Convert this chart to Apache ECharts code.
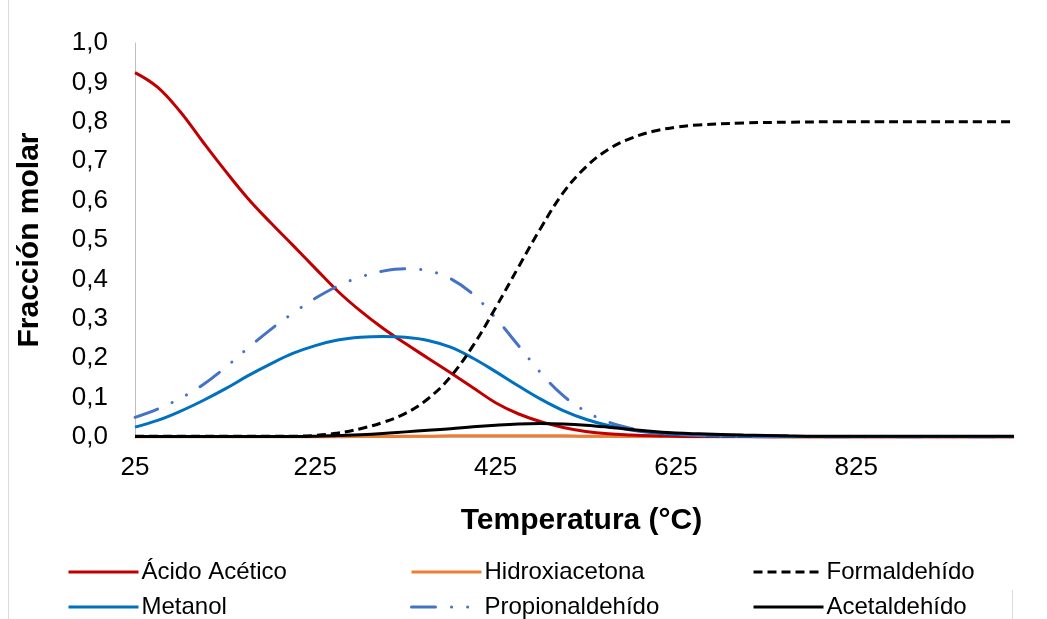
<!DOCTYPE html>
<html>
<head>
<meta charset="utf-8">
<script src="https://cdn.jsdelivr.net/npm/echarts@6/dist/echarts.min.js"></script>
<style>
  html, body { margin: 0; padding: 0; background: #fff; }
  #chart { width: 1047px; height: 619px; }
</style>
</head>
<body>
<div id="chart"></div>
<script>
// temperatura (°C)
var temps = [25, 50, 75, 100, 125, 150, 175, 200, 225, 250, 275, 300, 325, 350, 375, 400, 425,
  450, 475, 500, 525, 550, 575, 600, 625, 650, 700, 750, 800, 850, 900, 950, 1000];

var acidoAcetico = [0.925, 0.888, 0.826, 0.750, 0.676, 0.606, 0.545, 0.487, 0.428, 0.370, 0.320, 0.276, 0.237, 0.200, 0.163, 0.125, 0.087,
  0.059, 0.039, 0.024, 0.014, 0.008, 0.005, 0.003, 0.002, 0.001, 0.001, 0.000, 0.000, 0.000, 0.000, 0.000, 0.000];
var hidroxiacetona = [0.000, 0.000, 0.000, 0.000, 0.000, 0.000, 0.000, 0.000, 0.000, 0.000, 0.001, 0.001, 0.002, 0.002, 0.003, 0.003, 0.003,
  0.003, 0.003, 0.003, 0.002, 0.002, 0.001, 0.001, 0.001, 0.000, 0.000, 0.000, 0.000, 0.000, 0.000, 0.000, 0.000];
var formaldehido = [0.002, 0.002, 0.002, 0.002, 0.002, 0.002, 0.002, 0.002, 0.004, 0.010, 0.021, 0.037, 0.060, 0.097, 0.153, 0.232, 0.328,
  0.430, 0.530, 0.620, 0.685, 0.730, 0.758, 0.776, 0.786, 0.792, 0.797, 0.799, 0.800, 0.800, 0.800, 0.800, 0.800];
var metanol = [0.025, 0.042, 0.065, 0.092, 0.122, 0.155, 0.185, 0.212, 0.232, 0.246, 0.253, 0.255, 0.253, 0.245, 0.228, 0.200, 0.166,
  0.130, 0.096, 0.067, 0.045, 0.029, 0.018, 0.011, 0.007, 0.004, 0.002, 0.001, 0.001, 0.001, 0.001, 0.001, 0.001];
var propionaldehido = [0.050, 0.071, 0.098, 0.132, 0.176, 0.225, 0.272, 0.314, 0.352, 0.383, 0.406, 0.421, 0.427, 0.422, 0.402, 0.362, 0.302,
  0.233, 0.163, 0.105, 0.065, 0.038, 0.022, 0.012, 0.007, 0.004, 0.001, 0.000, 0.000, 0.000, 0.000, 0.000, 0.000];
var acetaldehido = [0.001, 0.001, 0.001, 0.001, 0.001, 0.001, 0.001, 0.001, 0.002, 0.004, 0.006, 0.009, 0.013, 0.017, 0.021, 0.026, 0.030,
  0.033, 0.034, 0.033, 0.030, 0.025, 0.019, 0.014, 0.010, 0.008, 0.005, 0.003, 0.002, 0.002, 0.002, 0.002, 0.002];

var xTicks = [25, 225, 425, 625, 825];

var font = 'Liberation Sans, Arial, sans-serif';

function pairs(ys) {
  return temps.map(function (t, i) { return [t, ys[i]]; });
}

function serie(name, ys, color, type, cap) {
  return {
    name: name,
    type: 'line',
    data: pairs(ys),
    smooth: 0.4,
    symbol: 'none',
    color: color,
    lineStyle: { color: color, width: 3, type: type || 'solid', cap: cap || 'butt' },
    animation: false
  };
}

var chart = echarts.init(document.getElementById('chart'));

function legendCol(left, names) {
  return {
    orient: 'vertical',
    left: left,
    top: 560,
    padding: 0,
    itemWidth: 70,
    itemHeight: 14,
    itemGap: 11,
    selectedMode: false,
    itemStyle: { opacity: 0 },
    lineStyle: { width: 3 },
    textStyle: { fontFamily: font, fontSize: 24, lineHeight: 24, color: '#000', padding: [0, 0, 0, -2] },
    data: names
  };
}

chart.setOption({
  backgroundColor: '#fff',
  grid: { left: 135, right: 33, top: 43, bottom: 182, outerBoundsMode: 'none' },
  xAxis: {
    type: 'value',
    min: 25,
    max: 1000,
    name: 'Temperatura (°C)',
    nameLocation: 'middle',
    nameGap: 69,
    nameTextStyle: { fontFamily: font, fontSize: 30, fontWeight: 'bold', color: '#000', padding: [0, 0, 0, 14] },
    axisLine: { show: true, lineStyle: { color: '#bfbfbf', width: 1 } },
    axisTick: { show: false },
    splitLine: { show: false },
    axisLabel: {
      customValues: xTicks,
      margin: 18,
      fontFamily: font,
      fontSize: 26,
      color: '#000'
    }
  },
  yAxis: {
    type: 'value',
    min: 0,
    max: 1,
    interval: 0.1,
    name: 'Fracción molar',
    nameLocation: 'middle',
    nameRotate: 90,
    nameGap: 90,
    nameTextStyle: { fontFamily: font, fontSize: 30, fontWeight: 'bold', color: '#000' },
    axisLine: { show: true, lineStyle: { color: '#bfbfbf', width: 1 } },
    axisTick: { show: false },
    splitLine: { show: false },
    axisLabel: {
      margin: 27,
      fontFamily: font,
      fontSize: 26,
      color: '#000',
      formatter: function (v) { return v.toFixed(1).replace('.', ','); }
    }
  },
  legend: [
    legendCol(67, ['Ácido Acético', 'Metanol']),
    legendCol(410, ['Hidroxiacetona', 'Propionaldehído']),
    legendCol(752, ['Formaldehído', 'Acetaldehído'])
  ],
  graphic: [
    { type: 'line', shape: { x1: 8.5, y1: 0, x2: 8.5, y2: 619 }, style: { stroke: '#d9d9d9', lineWidth: 1 } },
    { type: 'line', shape: { x1: 1012.5, y1: 590, x2: 1012.5, y2: 619 }, style: { stroke: '#d9d9d9', lineWidth: 1 } }
  ],
  series: [
    serie('Hidroxiacetona', hidroxiacetona, '#ED7D31'),
    serie('Ácido Acético', acidoAcetico, '#C00000'),
    serie('Metanol', metanol, '#0070C0'),
    serie('Propionaldehído', propionaldehido, '#4472C4', [24, 16, 0.1, 16, 0.1, 16], 'round'),
    serie('Formaldehído', formaldehido, '#000000', [9, 5]),
    serie('Acetaldehído', acetaldehido, '#000000')
  ]
});
</script>
</body>
</html>
